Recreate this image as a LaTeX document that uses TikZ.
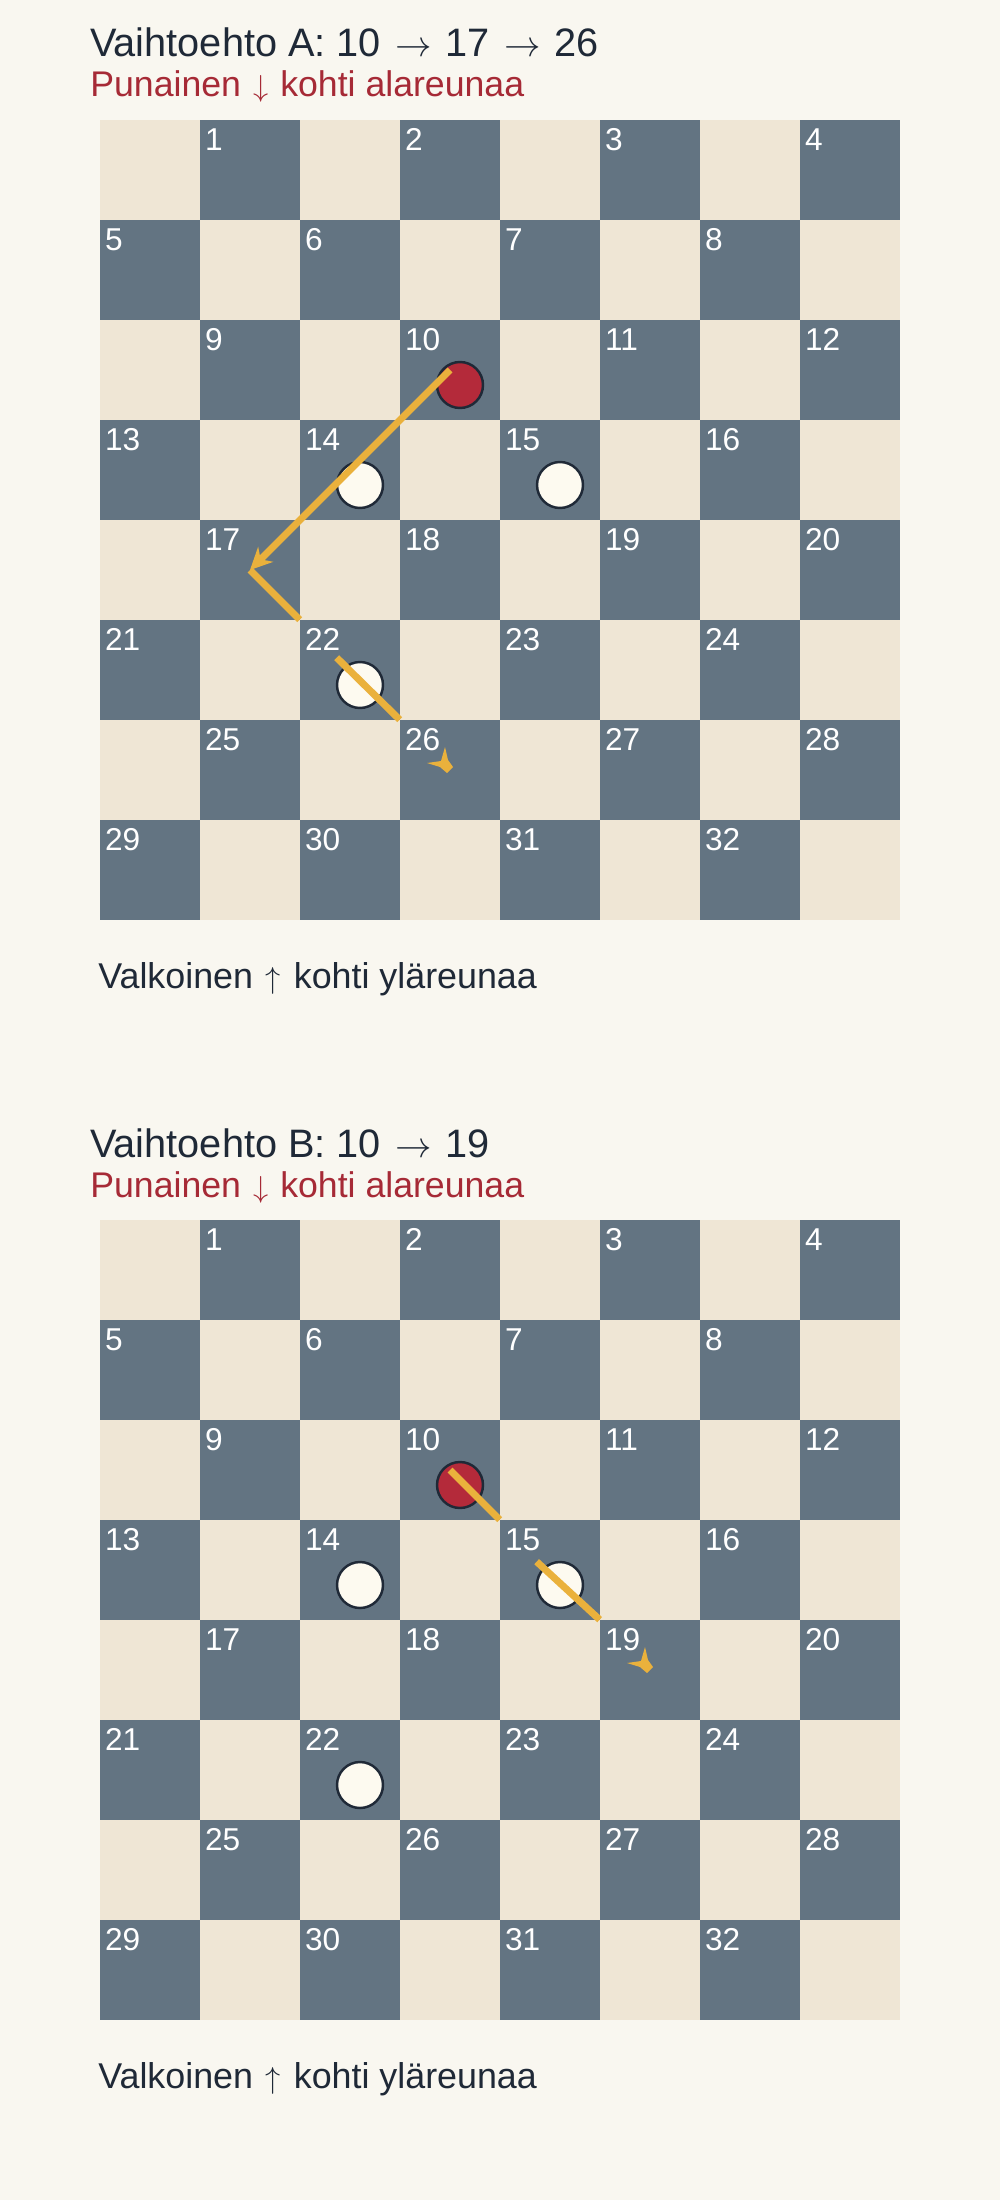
\documentclass[tikz,border=0pt]{standalone}
\usepackage{fontspec}
\setmainfont{Liberation Sans}
\usetikzlibrary{arrows.meta,calc}
\definecolor{pagebg}{HTML}{F9F7F0}
\definecolor{lightsq}{HTML}{EFE6D5}
\definecolor{darksq}{HTML}{637482}
\definecolor{inkdark}{HTML}{1F2937}
\definecolor{redtxt}{HTML}{A62A36}
\definecolor{redpiece}{HTML}{B42A3A}
\definecolor{whitepiece}{HTML}{FDFAF0}
\definecolor{moveclr}{HTML}{EAB13C}
\tikzstyle{board}=[rectangle, fill=lightsq
,minimum size=16cm
,inner sep=0pt
]
\tikzstyle{dark square}=[rectangle, fill=darksq, minimum size=2cm, inner sep=0pt]
\tikzstyle{number}=[anchor=base west, inner sep=0pt, text=white, font=\fontsize{18}{18}\selectfont]
\tikzstyle{piece}=[circle, draw=inkdark, line width=1.4pt, minimum size=0.92cm, inner sep=0pt]
\tikzstyle{red piece} = [piece, fill=redpiece]
\tikzstyle{white piece} = [piece, fill=whitepiece]
\tikzstyle{move} = [draw=moveclr, line width=0.14cm]
\tikzstyle{tip mark} = [fill=moveclr]
\tikzstyle{title} = [anchor=base west, inner sep=0pt, text=inkdark, font=\fontsize{22.6}{24}\selectfont]
\tikzstyle{subtitle} = [anchor=base west, inner sep=0pt, text=redtxt, font=\fontsize{20.3}{22}\selectfont]
\tikzstyle{footer} = [anchor=base west, inner sep=0pt, text=inkdark, font=\fontsize{20.4}{22}\selectfont]
% arrows inside the captions
\newcommand{\rarr}{\hspace{1.8pt}$\rightarrow$\hspace{1.8pt}}
\newcommand{\darr}{\hspace{1.2pt}{\fontsize{18.5}{18}\selectfont$\downarrow$}\hspace{1.2pt}}
\newcommand{\uarr}{\hspace{1.6pt}{\fontsize{18.5}{18}\selectfont$\uparrow$}\hspace{1.6pt}}

\begin{document}
\begin{tikzpicture}[x=0.02cm, y=-0.02cm]
    % Page background
    \fill[pagebg] (0,0) rectangle (1000,2200);

    % Draw both boards, light squares first, then the numbered dark ones
    \foreach \b/\dy in {A/0, B/1100} {
        \node[board] (board\b) at (500,520+\dy) {};
        \foreach \r in {0,...,7}
            \foreach \c in {0,...,7} {
                \pgfmathtruncatemacro{\odd}{mod(\r+\c,2)}
                \ifnum\odd=1
                    \pgfmathtruncatemacro{\n}{4*\r+div(\c,2)+1}
                    \node[dark square] (\b\n) at (150+100*\c,170+100*\r+\dy) {};
                    \node[number] (\b\n-num) at ($(\b\n.north west)+(5,31)$) {\n};
                \fi
            }
        % Pieces
        \node[red piece] (\b-red) at ($(\b10.center)+(10,15)$) {};
        \foreach \s in {14,15,22}
            \node[white piece] (\b-w\s) at ($(\b\s.center)+(10,15)$) {};
        % Captions
        \node[subtitle] (\b-sub) at (90,97+\dy) {Punainen \darr{} kohti alareunaa};
        \node[footer] (\b-foot) at (98,988+\dy) {Valkoinen \uarr{} kohti yläreunaa};
    }

    \node[title] (A-title) at (90,57) {Vaihtoehto A: 10 \rarr{} 17 \rarr{} 26};
    \node[title] (B-title) at (90,1157) {Vaihtoehto B: 10 \rarr{} 19};

    % Move A: 10 -> 17 -> 26
    \draw[move, -{Stealth[length=0.44cm, width=0.42cm, inset=0.14cm]}] (A10.center) -- (A17.center);
    \draw[move] (A17.center) -- (A22.north west);
    \coordinate (A-gap) at ($(A22.north west)+(37,38)$);
    \draw[move] (A-gap) -- (A26.north west);
    \fill[tip mark, shift={(A26.center)}] (-23,-7) -- (-9,-9) -- (-5,-23) -- (-2,-10) -- (3,-3) -- (-3,3) -- (-10,-3) -- cycle;

    % Move B: 10 -> 19
    \draw[move] (B10.center) -- (B15.north west);
    \coordinate (B-gap) at ($(B15.north west)+(37,42)$);
    \draw[move] (B-gap) -- (B19.north west);
    \fill[tip mark, shift={(B19.center)}] (-23,-7) -- (-9,-9) -- (-5,-23) -- (-2,-10) -- (3,-3) -- (-3,3) -- (-10,-3) -- cycle;
\end{tikzpicture}
\end{document}
